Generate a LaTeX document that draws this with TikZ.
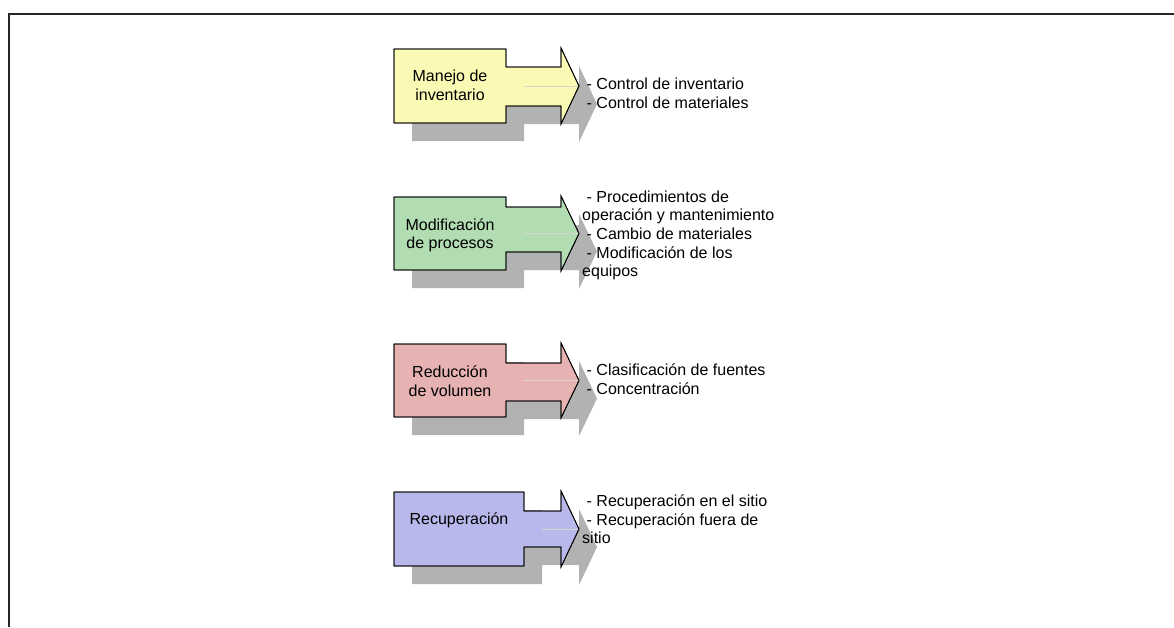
\documentclass[tikz,border=0pt]{standalone}
\usepackage{fontspec}
\setmainfont{Liberation Sans}
\definecolor{shadowgray}{HTML}{B2B2B2}
\definecolor{fyellow}{HTML}{FAFAB4}
\definecolor{fgreen}{HTML}{B2DCB2}
\definecolor{fred}{HTML}{E6B2B2}
\definecolor{fblue}{HTML}{B8B8EC}
\definecolor{midline}{HTML}{D8D8D0}
\newcommand\arrowshape[5]{(394,#1) -- (#3,#1) -- (#3,#4) -- (561,#4) -- (561,{#1-1}) -- (579,{(#1+#2)/2}) -- (561,{#2+1}) -- (561,#5) -- (#3,#5) -- (#3,#2) -- (394,#2) -- cycle}
\newcommand\drawbigarrow[6]{%
  \fill[shadowgray,shift={(18,18)}] \arrowshape{#1}{#2}{#3}{#4}{#5};
  \filldraw[arrowbody,fill=#6] \arrowshape{#1}{#2}{#3}{#4}{#5};
  \begin{scope}
    \clip \arrowshape{#1}{#2}{#3}{#4}{#5};
    \draw[midline,line width=0.8pt] ({#3+18},{(#1+#2)/2}) -- (580,{(#1+#2)/2});
  \end{scope}
  \draw[arrowbody] \arrowshape{#1}{#2}{#3}{#4}{#5};
}
\tikzset{
  arrowbody/.style={draw=black,line width=0.8pt},
  boxlbl/.style={anchor=base,inner sep=0pt,font=\fontsize{16}{19}\selectfont},
  itemlbl/.style={anchor=base west,inner sep=0pt,font=\fontsize{16}{19}\selectfont},
}
\begin{document}
\begin{tikzpicture}[x=1pt,y=-1pt]
\useasboundingbox (0,0) rectangle (1174,627);
\draw[line width=2pt,black!85] (9,627) -- (9,14) -- (1174,14);
% arrows
\drawbigarrow{49}{123}{506}{67}{106}{fyellow}
\drawbigarrow{197}{270}{506}{207}{252}{fgreen}
\drawbigarrow{344}{417}{506}{363}{401}{fred}
\drawbigarrow{492}{566}{524}{511}{547}{fblue}
% box labels
\node[boxlbl] (b1a) at (450,81) {Manejo de};
\node[boxlbl] (b1b) at (450,100) {inventario};
\node[boxlbl] (b2a) at (450,230) {Modificación};
\node[boxlbl] (b2b) at (450,248) {de procesos};
\node[boxlbl] (b3a) at (450,377) {Reducción};
\node[boxlbl] (b3b) at (450,396) {de volumen};
\node[boxlbl] (b4a) at (459,524) {Recuperación};
% item lists
\node[itemlbl] (i1a) at (586.5,89) {- Control de inventario};
\node[itemlbl] (i1b) at (586.5,108) {- Control de materiales};
\node[itemlbl] (i2a) at (586.5,202) {- Procedimientos de};
\node[itemlbl] (i2b) at (582,220) {operación y mantenimiento};
\node[itemlbl] (i2c) at (586.5,239) {- Cambio de materiales};
\node[itemlbl] (i2d) at (586.5,258) {- Modificación de los};
\node[itemlbl] (i2e) at (582,276) {equipos};
\node[itemlbl] (i3a) at (586.5,375) {- Clasificación de fuentes};
\node[itemlbl] (i3b) at (586.5,394) {- Concentración};
\node[itemlbl] (i4a) at (586.5,506) {- Recuperación en el sitio};
\node[itemlbl] (i4b) at (586.5,525) {- Recuperación fuera de};
\node[itemlbl] (i4c) at (582,543) {sitio};
\end{tikzpicture}
\end{document}
